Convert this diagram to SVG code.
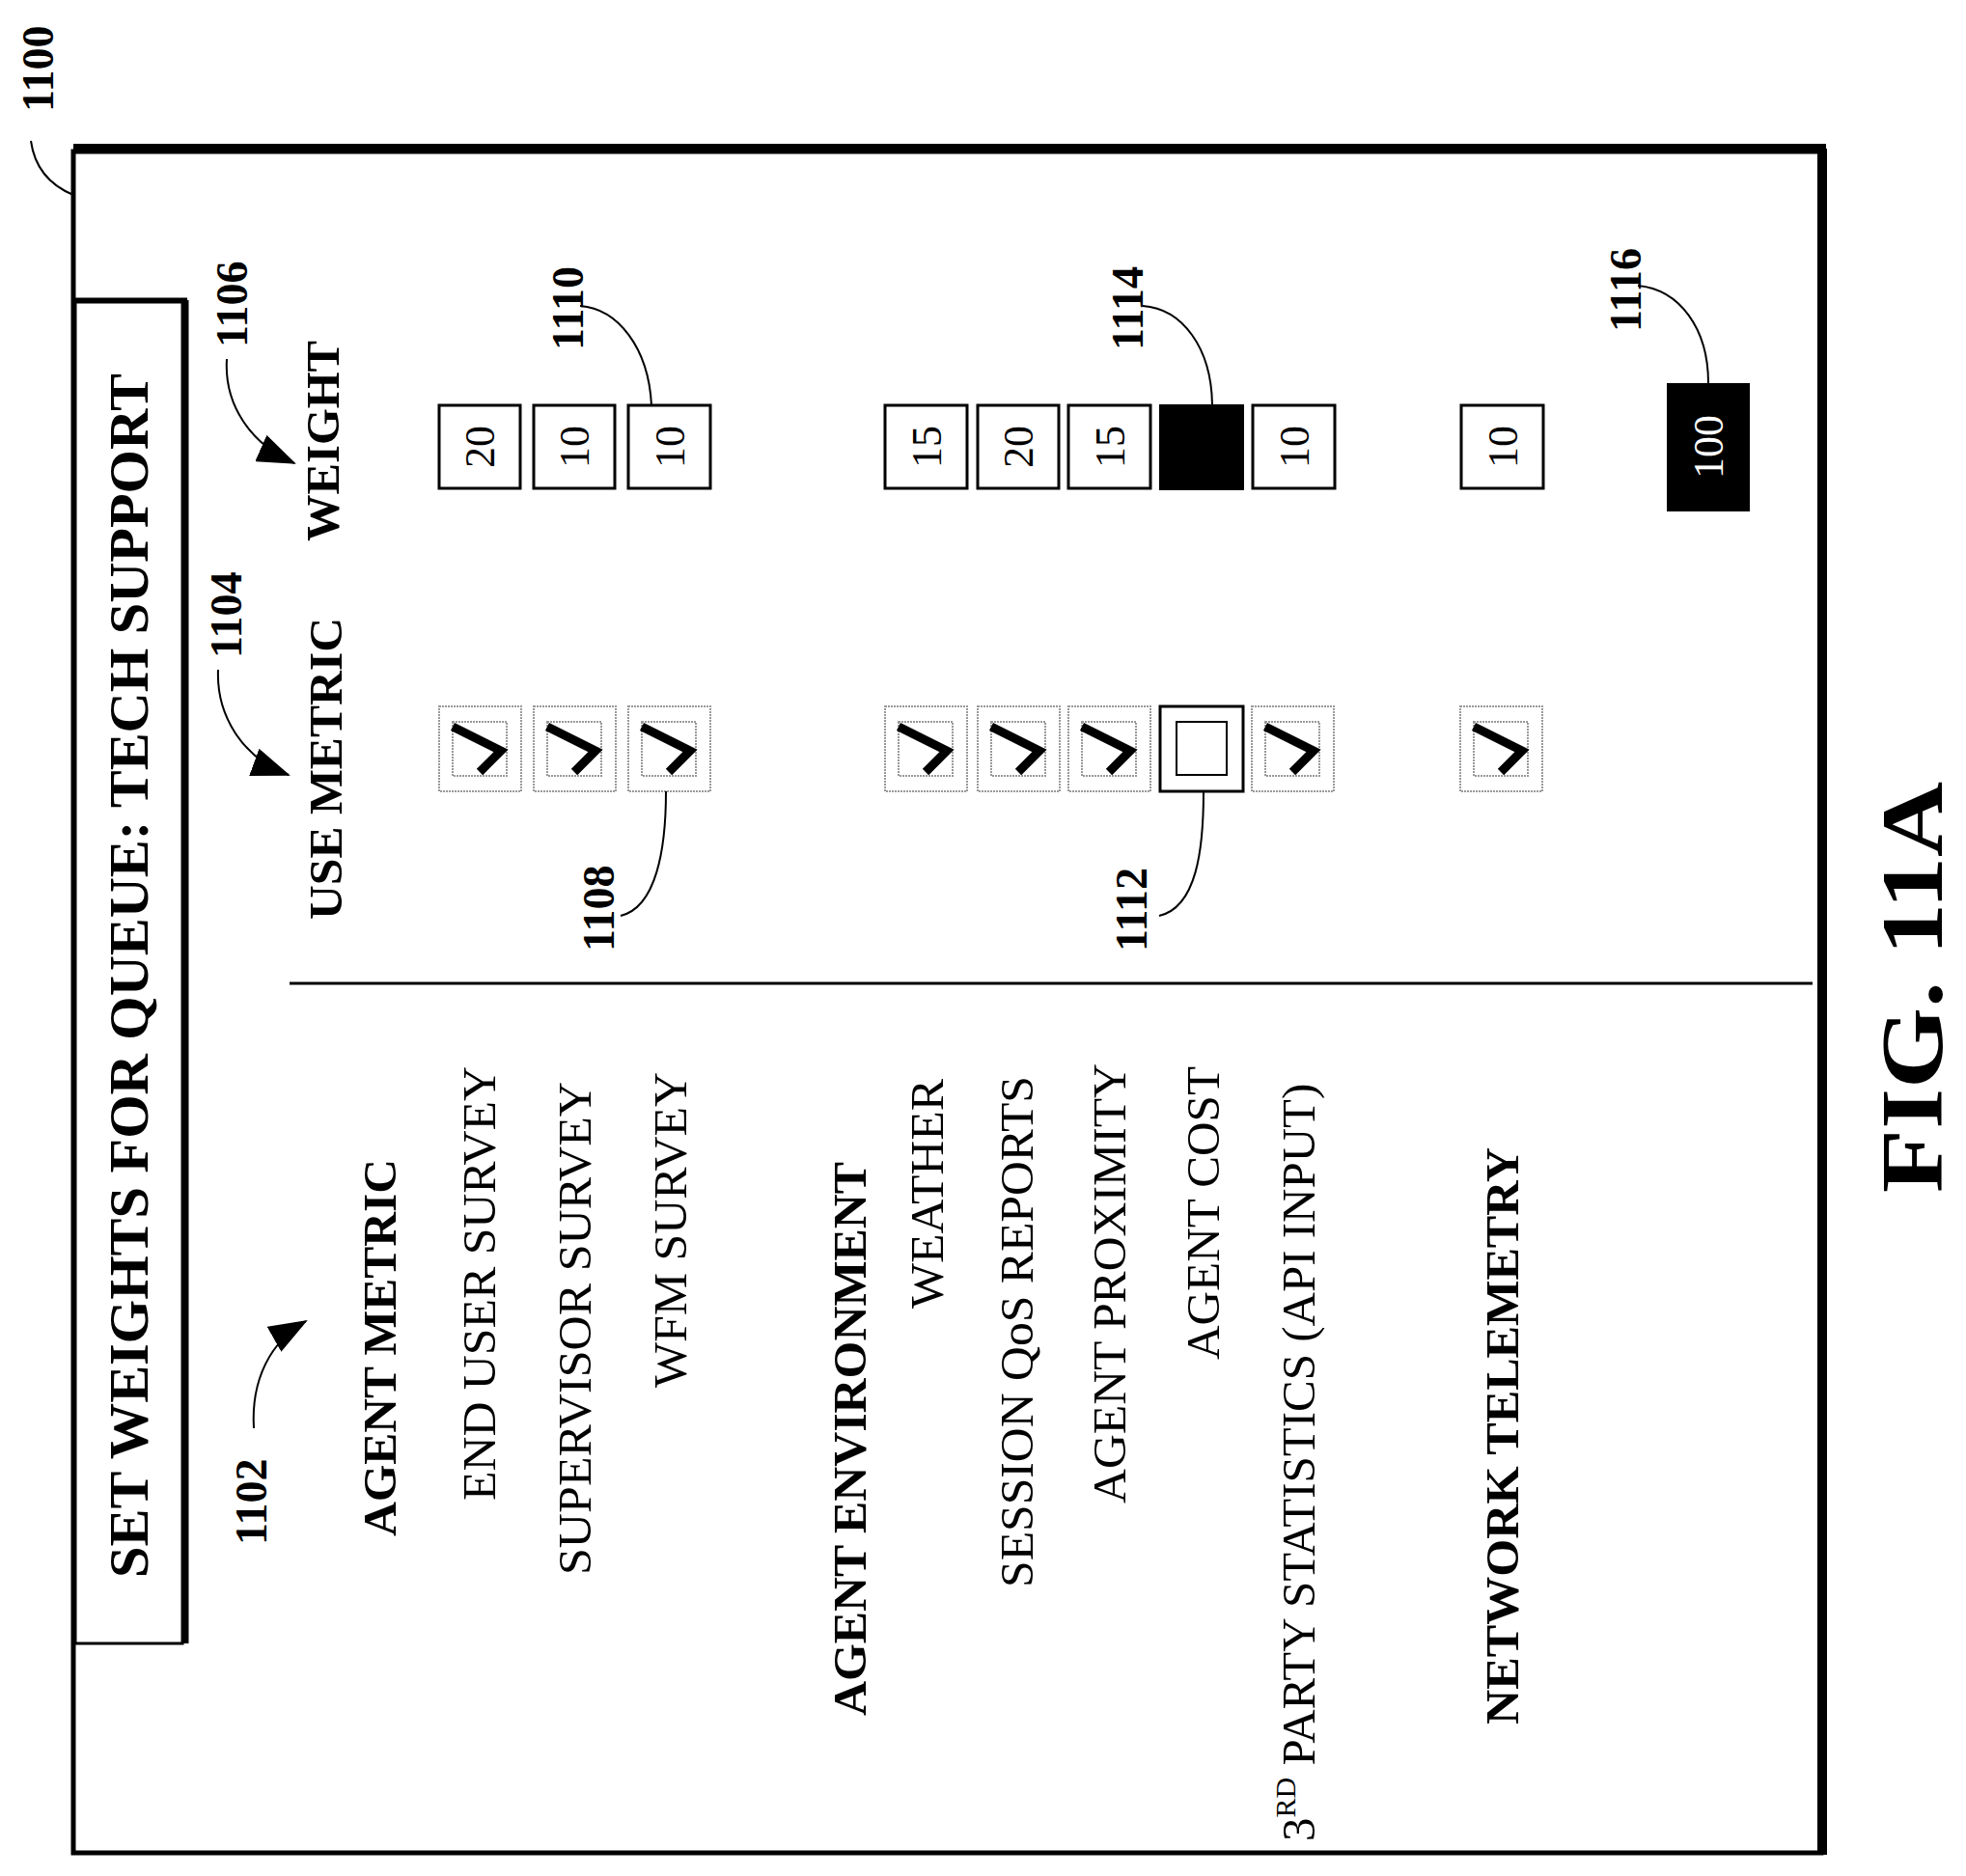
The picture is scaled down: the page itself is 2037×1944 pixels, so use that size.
<svg xmlns="http://www.w3.org/2000/svg" width="2037" height="1944" viewBox="0 0 2037 1944">
<style>
text{font-family:"Liberation Serif","Times New Roman",serif;fill:#000}
.b{font-weight:bold}
.it{font-size:48px}
.hd{font-size:48px;font-weight:bold}
.ref{font-size:46px;font-weight:bold}
.num{font-size:44px;text-anchor:middle}
.ln{fill:none;stroke:#000;stroke-width:2}
.wb{fill:#fff;stroke:#000;stroke-width:3}
.cbo{fill:#fff;stroke:#999;stroke-width:2;stroke-dasharray:2 1}
.chk{fill:none;stroke:#000;stroke-width:9;stroke-linejoin:miter}
</style>
<defs>
<marker id="ah2" markerWidth="40" markerHeight="30" refX="38" refY="15" orient="auto" markerUnits="userSpaceOnUse"><path d="M0,0 L40,15 L0,30 z"/></marker>
<g id="cb"><rect class="cbo" x="0" y="0" width="85" height="88"/><rect class="cbo" x="14" y="16" width="56" height="56"/><polyline class="chk" points="14,21 64,46 42,68"/></g>
</defs>
<g id="frame">
<rect x="76" y="157" width="1811" height="1763" fill="none" stroke="#000" stroke-width="5"/>
<line x1="76" y1="154" x2="1892" y2="154" stroke="#000" stroke-width="10"/>
<line x1="1888" y1="154" x2="1888" y2="1922" stroke="#000" stroke-width="10"/>
<text class="ref" transform="translate(55,116) rotate(-90)">1100</text>
<path class="ln" d="M32,146 C36,175 52,192 76,202"/>
</g>
<g id="title">
<rect x="78" y="313" width="111" height="1390" fill="#fff" stroke="#000" stroke-width="3"/>
<line x1="78" y1="311" x2="194" y2="311" stroke="#000" stroke-width="5"/>
<line x1="192" y1="311" x2="192" y2="1703" stroke="#000" stroke-width="7"/>
<text class="b" style="font-size:56px" textLength="1248" lengthAdjust="spacingAndGlyphs" transform="translate(153,1635) rotate(-90)">SET WEIGHTS FOR QUEUE: TECH SUPPORT</text>
</g>
<line id="divider" x1="300" y1="1019" x2="1878" y2="1019" stroke="#000" stroke-width="3"/>
<g id="labels">
<text class="hd" textLength="391" lengthAdjust="spacingAndGlyphs" transform="translate(410,1592) rotate(-90)">AGENT METRIC</text>
<text class="it" textLength="450" lengthAdjust="spacingAndGlyphs" transform="translate(513,1555) rotate(-90)">END USER SURVEY</text>
<text class="it" textLength="511" lengthAdjust="spacingAndGlyphs" transform="translate(612,1632) rotate(-90)">SUPERVISOR SURVEY</text>
<text class="it" textLength="327" lengthAdjust="spacingAndGlyphs" transform="translate(711,1438) rotate(-90)">WFM SURVEY</text>
<text class="hd" textLength="574" lengthAdjust="spacingAndGlyphs" transform="translate(897,1778) rotate(-90)">AGENT ENVIRONMENT</text>
<text class="it" textLength="238" lengthAdjust="spacingAndGlyphs" transform="translate(977,1356) rotate(-90)">WEATHER</text>
<text class="it" textLength="530" lengthAdjust="spacingAndGlyphs" transform="translate(1070,1645) rotate(-90)">SESSION QoS REPORTS</text>
<text class="it" textLength="456" lengthAdjust="spacingAndGlyphs" transform="translate(1166,1558) rotate(-90)">AGENT PROXIMITY</text>
<text class="it" textLength="304" lengthAdjust="spacingAndGlyphs" transform="translate(1263,1409) rotate(-90)">AGENT COST</text>
<text style="font-size:49px" transform="translate(1362,1908) rotate(-90)">3<tspan style="font-size:30px" dy="-20">RD</tspan><tspan dy="20"> PARTY STATISTICS (API INPUT)</tspan></text>
<text class="hd" textLength="598" lengthAdjust="spacingAndGlyphs" transform="translate(1573,1787) rotate(-90)">NETWORK TELEMETRY</text>
<text class="hd" textLength="313" lengthAdjust="spacingAndGlyphs" transform="translate(354,953) rotate(-90)">USE METRIC</text>
<text class="hd" textLength="208" lengthAdjust="spacingAndGlyphs" transform="translate(351,561) rotate(-90)">WEIGHT</text>
<text class="b" style="font-size:90px" textLength="426" lengthAdjust="spacingAndGlyphs" transform="translate(2012,1236) rotate(-90)">FIG. 11A</text>
</g>
<g id="refs">
<text class="ref" transform="translate(256,360) rotate(-90)">1106</text>
<text class="ref" transform="translate(250,682) rotate(-90)">1104</text>
<text class="ref" transform="translate(276,1601) rotate(-90)">1102</text>
<text class="ref" transform="translate(604,363) rotate(-90)">1110</text>
<text class="ref" transform="translate(636,986) rotate(-90)">1108</text>
<text class="ref" transform="translate(1184,363) rotate(-90)">1114</text>
<text class="ref" transform="translate(1188,986) rotate(-90)">1112</text>
<text class="ref" transform="translate(1700,344) rotate(-90)">1116</text>
</g>
<g id="weights">
<g id="w1"><rect class="wb" x="455" y="420" width="84" height="86"/><text class="num" transform="translate(512,463) rotate(-90)">20</text></g>
<g id="w2"><rect class="wb" x="553" y="420" width="84" height="86"/><text class="num" transform="translate(610,463) rotate(-90)">10</text></g>
<g id="w3"><rect class="wb" x="651" y="420" width="85" height="86"/><text class="num" transform="translate(709,463) rotate(-90)">10</text></g>
<g id="w4"><rect class="wb" x="917" y="420" width="85" height="86"/><text class="num" transform="translate(975,463) rotate(-90)">15</text></g>
<g id="w5"><rect class="wb" x="1013" y="420" width="84" height="86"/><text class="num" transform="translate(1070,463) rotate(-90)">20</text></g>
<g id="w6"><rect class="wb" x="1107" y="420" width="85" height="86"/><text class="num" transform="translate(1165,463) rotate(-90)">15</text></g>
<g id="w7"><rect x="1201" y="419" width="88" height="89" fill="#000"/></g>
<g id="w8"><rect class="wb" x="1298" y="420" width="85" height="86"/><text class="num" transform="translate(1356,463) rotate(-90)">10</text></g>
<g id="w9"><rect class="wb" x="1514" y="420" width="85" height="86"/><text class="num" transform="translate(1572,463) rotate(-90)">10</text></g>
<g id="w10"><rect x="1727" y="397" width="86" height="133" fill="#000"/><text class="num" style="fill:#fff" transform="translate(1785,463) rotate(-90)">100</text></g>
</g>
<g id="checks">
<use href="#cb" x="455" y="732"/>
<use href="#cb" x="553" y="732"/>
<use href="#cb" x="651" y="732"/>
<use href="#cb" x="917" y="732"/>
<use href="#cb" x="1013" y="732"/>
<use href="#cb" x="1107" y="732"/>
<g id="c7"><rect x="1202" y="732" width="86" height="88" fill="#fff" stroke="#000" stroke-width="3"/><rect x="1219" y="748" width="52" height="55" fill="#fff" stroke="#000" stroke-width="2"/></g>
<use href="#cb" x="1297" y="732"/>
<use href="#cb" x="1513" y="732"/>
</g>
<g id="connectors">
<path class="ln" d="M601,317 C640,320 672,360 675,420"/>
<path class="ln" d="M643,949 C680,940 690,880 690,820"/>
<path class="ln" d="M1184,317 C1225,320 1255,360 1256,419"/>
<path class="ln" d="M1201,949 C1240,940 1247,880 1247,820"/>
<path class="ln" d="M1697,296 C1740,300 1770,340 1770,397"/>
<path class="ln" d="M235,372 C232,420 260,460 305,480" marker-end="url(#ah2)"/>
<path class="ln" d="M226,694 C224,740 250,785 299,803" marker-end="url(#ah2)"/>
<path class="ln" d="M263,1480 C260,1430 280,1390 317,1369" marker-end="url(#ah2)"/>
</g>
</svg>
